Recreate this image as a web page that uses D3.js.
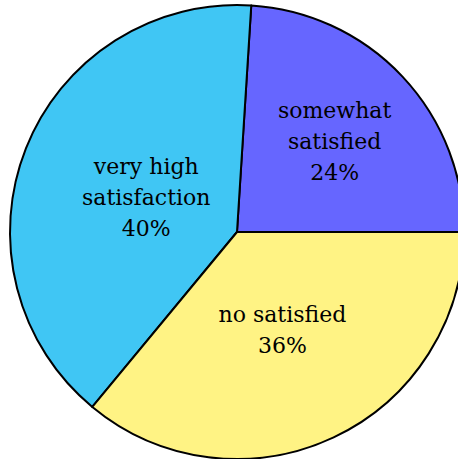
<!DOCTYPE html>
<html>
<head>
<meta charset="utf-8">
<script src="https://cdn.jsdelivr.net/npm/d3@7"></script>
<style>
  html, body { margin: 0; padding: 0; background: #fff; }
  svg { display: block; }
  .slice-label { font-family: "DejaVu Serif"; }
</style>
</head>
<body>
<svg id="chart" width="458" height="459"></svg>
<script>
// Satisfaction survey shares, listed counter-clockwise from 3 o'clock
const categories = ["somewhat satisfied", "very high satisfaction", "no satisfied"];
const labelLines = [["somewhat", "satisfied"], ["very high", "satisfaction"], ["no satisfied"]];
const shares = [24, 40, 36];
const colors = ["#6666FF", "#40C6F4", "#FFF384"];

const svg = d3.select("#chart");
const cx = 237, cy = 232, R = 227;

const total = d3.sum(shares);

// d3 angles run clockwise from 12 o'clock; start at 3 o'clock and go counter-clockwise
const pie = d3.pie()
  .sort(null)
  .value(d => d)
  .startAngle(Math.PI / 2)
  .endAngle(Math.PI / 2 - 2 * Math.PI);

const arcs = pie(shares);
const arc = d3.arc().innerRadius(0).outerRadius(R);

const g = svg.append("g").attr("transform", `translate(${cx},${cy})`);

g.selectAll("path.slice")
  .data(arcs)
  .join("path")
  .attr("class", "slice")
  .attr("d", arc)
  .attr("fill", (d, i) => colors[i])
  .attr("stroke", "#000")
  .attr("stroke-width", 2)
  .attr("stroke-linejoin", "round");

// Narrow slices push their label further out towards the rim
const lineH = 31, baseShift = 9;
arcs.forEach((d, i) => {
  const mid = (d.startAngle + d.endAngle) / 2;
  const r = R * (0.83 - shares[i] / total);
  const x = r * Math.sin(mid), y = -r * Math.cos(mid);
  const lines = labelLines[i].concat([shares[i] + "%"]);
  const t = g.append("text")
    .attr("class", "slice-label")
    .attr("text-anchor", "middle")
    .attr("font-size", 22)
    .attr("fill", "#000");
  const y0 = y - (lines.length - 1) * lineH / 2 + baseShift;
  lines.forEach((ln, k) => {
    t.append("tspan").attr("x", x).attr("y", y0 + k * lineH).text(ln);
  });
});
</script>
</body>
</html>
